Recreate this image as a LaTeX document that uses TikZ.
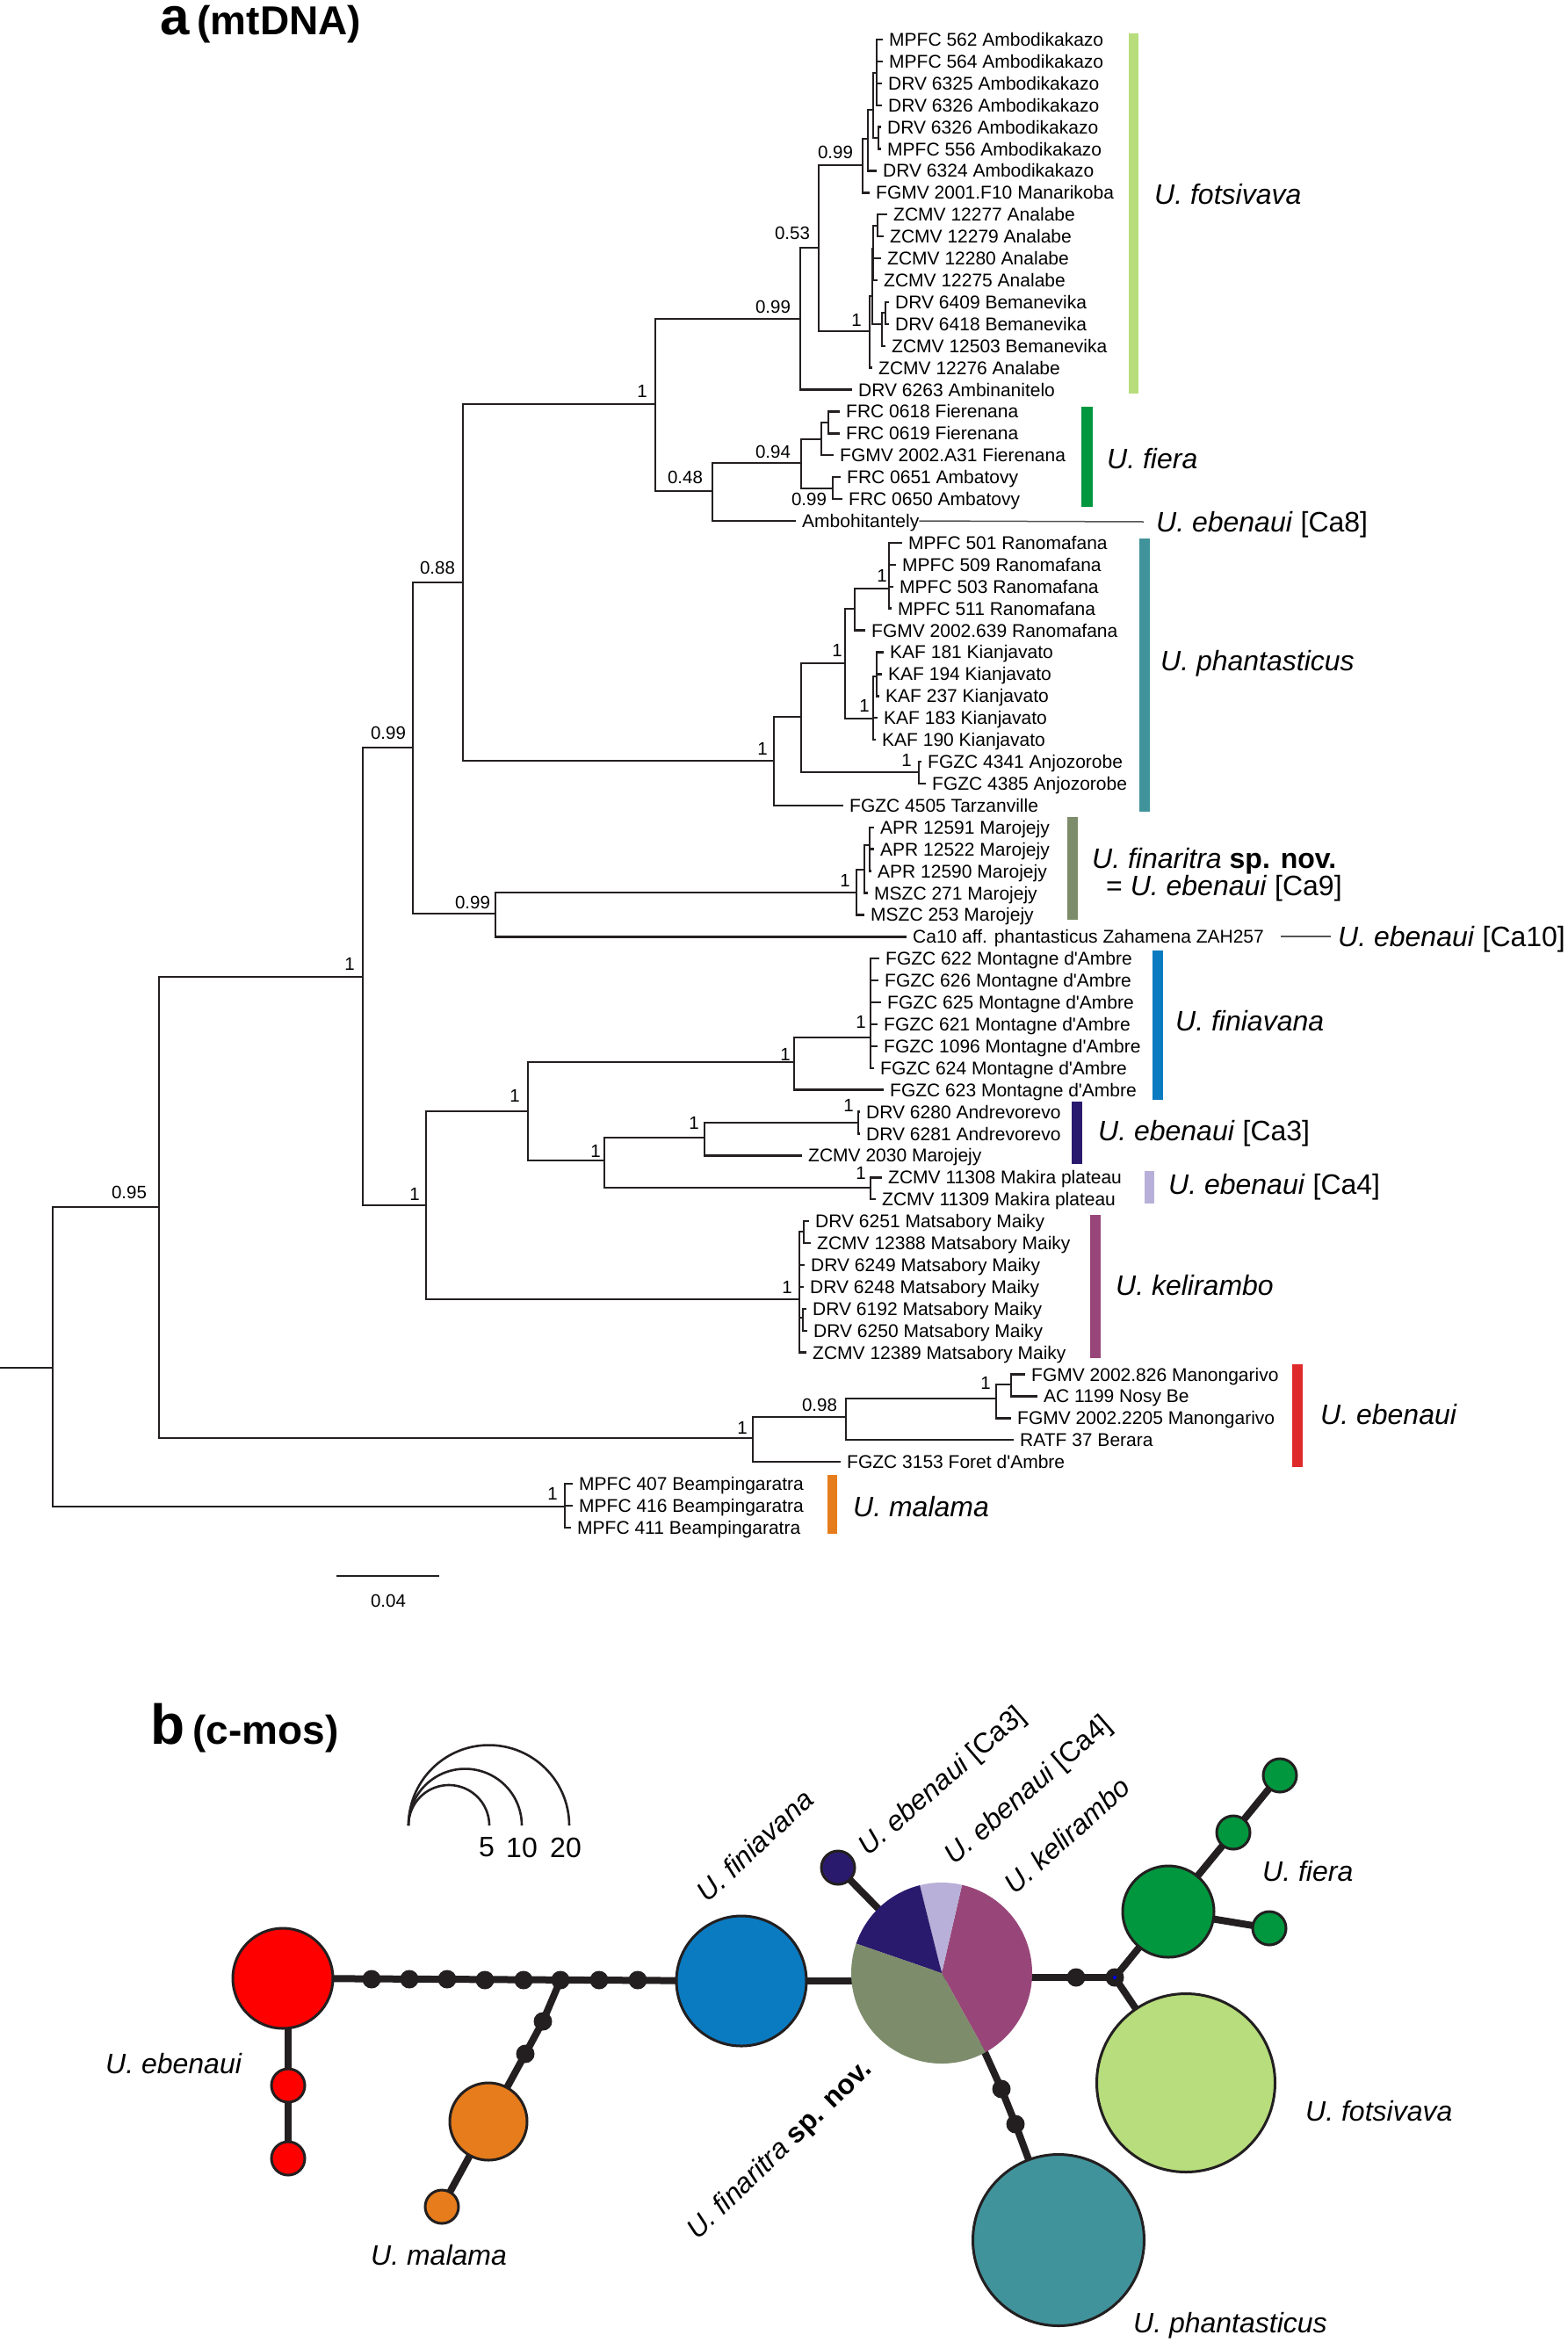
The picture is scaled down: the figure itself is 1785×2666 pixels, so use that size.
\documentclass[tikz,border=0pt]{standalone}
\usepackage{fontspec}
\setmainfont{Liberation Sans}
\definecolor{cLine}{HTML}{231F20}
\definecolor{cFots}{HTML}{B7DD7C}
\definecolor{cFiera}{HTML}{00973F}
\definecolor{cPhan}{HTML}{41939B}
\definecolor{cFinar}{HTML}{7D8C6B}
\definecolor{cFinia}{HTML}{0A7BC1}
\definecolor{cCaT}{HTML}{2A1A6E}
\definecolor{cCaF}{HTML}{B8B0D8}
\definecolor{cKel}{HTML}{984679}
\definecolor{cEbeBar}{HTML}{DF2A2C}
\definecolor{cMal}{HTML}{E67C1B}
\definecolor{cEbe}{HTML}{FF0000}
\definecolor{cConn}{HTML}{555555}
\newcommand\lf[4]{\coordinate (#1) at (#2-7,{45+24.91*#3}); \node[leaflab] (#1t) at (#2,{45+24.91*#3}) {#4};}
\newcommand\nd[3]{\coordinate (#1) at (#2,#3);}
\newcommand\sv[4]{\node[supp] (#1) at (#2,#3) {#4};}
\newcommand\ap{\textquotesingle}
\begin{document}
\begin{tikzpicture}[x=1pt,y=-1pt,
  tree/.style={line width=2.4pt, draw=cLine},
  conn/.style={line width=1.5pt, draw=cConn},
  leaflab/.style={anchor=west, inner sep=0pt, font=\fontsize{21}{21}\selectfont, text height=15pt, text depth=0pt},
  supp/.style={inner sep=0pt, font=\fontsize{20.5}{20.5}\selectfont, text height=14.7pt, text depth=0pt},
  grp/.style={anchor=west, inner sep=0pt, font=\fontsize{32}{32}\selectfont, text height=23pt, text depth=0pt},
  blab/.style={inner sep=0pt, font=\fontsize{32}{32}\selectfont\itshape},
  hap/.style={circle, draw=cLine, line width=3pt, inner sep=0pt},
  hdot/.style={circle, fill=cLine, inner sep=0pt, minimum size=21},
  hedge/.style={line width=8pt, draw=cLine},
  scl/.style={line width=2.6pt, draw=cLine}]
\useasboundingbox (0,0) rectangle (1785,2666);
\fill[white] (0,0) rectangle (1785,2666);

% ---------------- titles
\node[anchor=base west, inner sep=0pt] (titleA) at (182,39)
  {\bfseries\fontsize{60}{60}\selectfont a\hspace{9pt}\fontsize{46}{46}\selectfont (mtDNA)};
\node[anchor=base west, inner sep=0pt] (titleB) at (171,1985)
  {\bfseries\fontsize{64}{64}\selectfont b\hspace{9pt}\fontsize{46}{46}\selectfont (c-mos)};

% ---------------- internal nodes
\coordinate (Rs) at (0,1557);
\nd{R}{60}{1557}
\nd{n095}{181}{1374}
\nd{nA}{413}{1112}
\nd{nB}{470}{851}
\nd{n088}{527}{663}
\nd{nD}{746}{460}
\nd{nF}{911}{363}
\nd{n053}{932}{282}
\nd{nG}{982}{188}
\nd{nB1}{988}{158}
\nd{nC1}{994}{125}
\nd{nD1}{998}{83}
\nd{nAm2}{1000}{157}
\nd{nAn}{990}{377}
\nd{nG1}{993}{337}
\nd{nH1}{994}{283}
\nd{nH2}{999}{257}
\nd{nI1}{1004}{369}
\nd{nI2}{1008}{356}
\nd{n048}{811}{559}
\nd{n094}{912}{527}
\nd{nF1}{935}{500}
\nd{nF3}{943}{481}
\nd{nF2}{948}{556}
\nd{nPh}{881}{866}
\nd{nP1}{912}{816}
\nd{nP2}{962}{755}
\nd{nP4}{973}{693}
\nd{nP6}{1012}{670}
\nd{nP5}{994}{818}
\nd{nP7}{998}{770}
\nd{nP3}{1046}{879}
\nd{nCc}{564}{1040}
\nd{nMJ}{975}{1016}
\nd{nMJ2}{984}{990}
\nd{nMJ3}{990}{962}
\nd{nC}{485}{1372}
\nd{nFi}{601}{1265}
\nd{nFN}{904}{1209}
\nd{nFN2}{991}{1181}
\nd{nCa}{688}{1321}
\nd{nC3}{802}{1295}
\nd{nC3a}{977}{1278}
\nd{nC4}{991}{1352}
\nd{nK}{910}{1479}
\nd{nK1}{915}{1402}
\nd{nK2}{914}{1500}
\nd{nE}{857}{1637}
\nd{nE98}{963}{1613}
\nd{nEb1}{1134}{1592}
\nd{nEb2}{1151}{1576}
\nd{nM}{643}{1715}

% ---------------- leaves
\lf{l562}{1012}{0}{MPFC 562 Ambodikakazo}
\lf{l564}{1012}{1}{MPFC 564 Ambodikakazo}
\lf{l6325}{1011}{2}{DRV 6325 Ambodikakazo}
\lf{l6326a}{1011}{3}{DRV 6326 Ambodikakazo}
\lf{l6326b}{1010}{4}{DRV 6326 Ambodikakazo}
\lf{l556}{1010}{5}{MPFC 556 Ambodikakazo}
\lf{l6324}{1005}{6}{DRV 6324 Ambodikakazo}
\lf{lF10}{997}{7}{FGMV 2001.F10 Manarikoba}
\lf{l12277}{1017}{8}{ZCMV 12277 Analabe}
\lf{l12279}{1013}{9}{ZCMV 12279 Analabe}
\lf{l12280}{1010}{10}{ZCMV 12280 Analabe}
\lf{l12275}{1006}{11}{ZCMV 12275 Analabe}
\lf{l6409}{1019}{12}{DRV 6409 Bemanevika}
\lf{l6418}{1019}{13}{DRV 6418 Bemanevika}
\lf{l12503}{1015}{14}{ZCMV 12503 Bemanevika}
\lf{l12276}{1000}{15}{ZCMV 12276 Analabe}
\lf{l6263}{977}{16}{DRV 6263 Ambinanitelo}
\lf{l0618}{963}{17}{FRC 0618 Fierenana}
\lf{l0619}{963}{18}{FRC 0619 Fierenana}
\lf{lA31}{956}{19}{FGMV 2002.A31 Fierenana}
\lf{l0651}{964}{20}{FRC 0651 Ambatovy}
\lf{l0650}{966}{21}{FRC 0650 Ambatovy}
\lf{lAmbo}{913}{22}{Ambohitantely}
\lf{l501}{1034}{23}{MPFC 501 Ranomafana}
\lf{l509}{1027}{24}{MPFC 509 Ranomafana}
\lf{l503}{1024}{25}{MPFC 503 Ranomafana}
\lf{l511}{1022}{26}{MPFC 511 Ranomafana}
\lf{l639}{992}{27}{FGMV 2002.639 Ranomafana}
\lf{l181}{1013}{28}{KAF 181 Kianjavato}
\lf{l194}{1011}{29}{KAF 194 Kianjavato}
\lf{l237}{1008}{30}{KAF 237 Kianjavato}
\lf{l183}{1006}{31}{KAF 183 Kianjavato}
\lf{l190}{1004}{32}{KAF 190 Kianjavato}
\lf{l4341}{1056}{33}{FGZC 4341 Anjozorobe}
\lf{l4385}{1061}{34}{FGZC 4385 Anjozorobe}
\lf{l4505}{967}{35}{FGZC 4505 Tarzanville}
\lf{l12591}{1002}{36}{APR 12591 Marojejy}
\lf{l12522}{1002}{37}{APR 12522 Marojejy}
\lf{l12590}{999}{38}{APR 12590 Marojejy}
\lf{l271}{995}{39}{MSZC 271 Marojejy}
\lf{l253}{991}{40}{MSZC 253 Marojejy}
\lf{lCa10}{1039}{41}{Ca10 aff. phantasticus Zahamena ZAH257}
\lf{l622}{1008}{42}{FGZC 622 Montagne d\ap Ambre}
\lf{l626}{1007}{43}{FGZC 626 Montagne d\ap Ambre}
\lf{l625}{1010}{44}{FGZC 625 Montagne d\ap Ambre}
\lf{l621}{1006}{45}{FGZC 621 Montagne d\ap Ambre}
\lf{l1096}{1006}{46}{FGZC 1096 Montagne d\ap Ambre}
\lf{l624}{1002}{47}{FGZC 624 Montagne d\ap Ambre}
\lf{l623}{1013}{48}{FGZC 623 Montagne d\ap Ambre}
\lf{l6280}{986}{49}{DRV 6280 Andrevorevo}
\lf{l6281}{986}{50}{DRV 6281 Andrevorevo}
\lf{l2030}{920}{51}{ZCMV 2030 Marojejy}
\lf{l11308}{1011}{52}{ZCMV 11308 Makira plateau}
\lf{l11309}{1004}{53}{ZCMV 11309 Makira plateau}
\lf{l6251}{928}{54}{DRV 6251 Matsabory Maiky}
\lf{l12388}{930}{55}{ZCMV 12388 Matsabory Maiky}
\lf{l6249}{923}{56}{DRV 6249 Matsabory Maiky}
\lf{l6248}{922}{57}{DRV 6248 Matsabory Maiky}
\lf{l6192}{925}{58}{DRV 6192 Matsabory Maiky}
\lf{l6250}{926}{59}{DRV 6250 Matsabory Maiky}
\lf{l12389}{925}{60}{ZCMV 12389 Matsabory Maiky}
\lf{l826}{1174}{61}{FGMV 2002.826 Manongarivo}
\lf{lAC}{1188}{62}{AC 1199 Nosy Be}
\lf{l2205}{1158}{63}{FGMV 2002.2205 Manongarivo}
\lf{lRATF}{1161}{64}{RATF 37 Berara}
\lf{l3153}{964}{65}{FGZC 3153 Foret d\ap Ambre}
\lf{l407}{659}{66}{MPFC 407 Beampingaratra}
\lf{l416}{659}{67}{MPFC 416 Beampingaratra}
\lf{l411}{657}{68}{MPFC 411 Beampingaratra}

% ---------------- branches
\draw[tree] (Rs) -- (R);
\foreach \p/\c in {R/n095, R/nM, n095/nA, n095/nE, nA/nB, nA/nC, nB/n088, nB/nCc,
  n088/nD, n088/nPh, nD/nF, nD/n048, nF/n053, nF/l6263, n053/nG, n053/nAn,
  nG/nB1, nG/lF10, nB1/nC1, nB1/l6324, nC1/nD1, nC1/nAm2, nD1/l562, nD1/l564,
  nD1/l6325, nD1/l6326a, nAm2/l6326b, nAm2/l556, nAn/nG1, nAn/l12276, nG1/nH1,
  nG1/nI1, nH1/nH2, nH1/l12280, nH1/l12275, nH2/l12277, nH2/l12279, nI1/nI2,
  nI1/l12503, nI2/l6409, nI2/l6418,
  n048/n094, n048/lAmbo, n094/nF1, n094/nF2, nF1/nF3, nF1/lA31, nF3/l0618,
  nF3/l0619, nF2/l0651, nF2/l0650,
  nPh/nP1, nPh/l4505, nP1/nP2, nP1/nP3, nP2/nP4, nP2/nP5, nP4/nP6, nP4/l639,
  nP6/l501, nP6/l509, nP6/l503, nP6/l511, nP5/nP7, nP5/l183, nP5/l190,
  nP7/l181, nP7/l194, nP7/l237, nP3/l4341, nP3/l4385,
  nCc/nMJ, nCc/lCa10, nMJ/nMJ2, nMJ/l253, nMJ2/nMJ3, nMJ2/l271, nMJ3/l12591,
  nMJ3/l12522, nMJ3/l12590,
  nC/nFi, nC/nK, nFi/nFN, nFi/nCa, nFN/nFN2, nFN/l623, nFN2/l622, nFN2/l626,
  nFN2/l625, nFN2/l621, nFN2/l1096, nFN2/l624, nCa/nC3, nCa/nC4, nC3/nC3a,
  nC3/l2030, nC3a/l6280, nC3a/l6281, nC4/l11308, nC4/l11309,
  nK/nK1, nK/l6249, nK/l6248, nK/nK2, nK/l12389, nK1/l6251, nK1/l12388,
  nK2/l6192, nK2/l6250,
  nE/nE98, nE/l3153, nE98/nEb1, nE98/lRATF, nEb1/nEb2, nEb1/l2205, nEb2/l826,
  nEb2/lAC, nM/l407, nM/l416, nM/l411}
  \draw[tree] (\p) |- (\c);

% ---------------- support values
\sv{s1}{880}{349}{0.99}
\sv{s2}{902}{265}{0.53}
\sv{s3}{951}{173}{0.99}
\sv{s4}{975}{364}{1}
\sv{s5}{731}{445}{1}
\sv{s6}{780}{543}{0.48}
\sv{s7}{880}{514}{0.94}
\sv{s8}{921}{568}{0.99}
\sv{s9}{498}{646}{0.88}
\sv{s10}{442}{834}{0.99}
\sv{s11}{868}{852}{1}
\sv{s12}{953}{740}{1}
\sv{s13}{1032}{865}{1}
\sv{s14}{1004}{655}{1}
\sv{s15}{984}{803}{1}
\sv{s16}{538}{1027}{0.99}
\sv{s17}{962}{1002}{1}
\sv{s18}{398}{1097}{1}
\sv{s19}{147}{1357}{0.95}
\sv{s20}{472}{1359}{1}
\sv{s21}{586}{1247}{1}
\sv{s22}{894}{1200}{1}
\sv{s23}{980}{1163}{1}
\sv{s24}{678}{1310}{1}
\sv{s25}{790}{1278}{1}
\sv{s26}{966}{1258}{1}
\sv{s27}{980}{1335}{1}
\sv{s28}{896}{1465}{1}
\sv{s29}{845}{1625}{1}
\sv{s30}{933}{1599}{0.98}
\sv{s31}{1122}{1574}{1}
\sv{s32}{629}{1700}{1}

% ---------------- scale bar
\coordinate (sb1) at (383,1794);
\coordinate (sb2) at (500,1794);
\draw[tree] (sb1) -- (sb2);
\node[supp] (sbl) at (442,1822) {0.04};

% ---------------- clade bars
\fill[cFots] (1285,38) rectangle (1296,448);
\fill[cFiera] (1231,463) rectangle (1244,577);
\fill[cPhan] (1297,613) rectangle (1309,924);
\fill[cFinar] (1215,930) rectangle (1227,1047);
\fill[cFinia] (1312,1082) rectangle (1324,1252);
\fill[cCaT] (1220,1254) rectangle (1232,1325);
\fill[cCaF] (1303,1333) rectangle (1314,1370);
\fill[cKel] (1241,1383) rectangle (1253,1546);
\fill[cEbeBar] (1471,1553) rectangle (1483,1670);
\fill[cMal] (942,1679) rectangle (953,1746);

% ---------------- clade names
\node[grp] (gFots) at (1314,221) {\textit{U. fotsivava}};
\node[grp] (gFiera) at (1260,522) {\textit{U. fiera}};
\node[grp] (gCa8) at (1316,594) {\textit{U. ebenaui} [Ca8]};
\node[grp] (gPhan) at (1321,752) {\textit{U. phantasticus}};
\node[grp] (gFinar) at (1243,977) {\textit{U. finaritra} \textbf{sp. nov.}};
\node[grp] (gCa9) at (1259,1008) {= \textit{U. ebenaui} [Ca9]};
\node[grp] (gCa10) at (1523,1066) {\textit{U. ebenaui} [Ca10]};
\node[grp] (gFinia) at (1338,1162) {\textit{U. finiavana}};
\node[grp] (gCa3) at (1250,1287) {\textit{U. ebenaui} [Ca3]};
\node[grp] (gCa4) at (1330,1348) {\textit{U. ebenaui} [Ca4]};
\node[grp] (gKel) at (1270,1463) {\textit{U. kelirambo}};
\node[grp] (gEbe) at (1503,1610) {\textit{U. ebenaui}};
\node[grp] (gMal) at (971,1715) {\textit{U. malama}};

\coordinate (c8) at (1302,594);
\draw[conn] (lAmbot.east) -- (c8);
\coordinate (c10a) at (1458,1066);
\coordinate (c10b) at (1515,1066);
\draw[conn] (c10a) -- (c10b);

% ================= part b
% scale circles
\draw[scl] plot[domain=0:180,samples=60] ({511+46*cos(\x)},{2078-46*sin(\x)});
\draw[scl] plot[domain=0:180,samples=60] ({529.5+64.5*cos(\x)},{2078-64.5*sin(\x)});
\draw[scl] plot[domain=0:180,samples=60] ({556.5+91.5*cos(\x)},{2078-91.5*sin(\x)});
\node[inner sep=0pt, font=\fontsize{32}{32}\selectfont] (k5) at (554,2103) {5};
\node[inner sep=0pt, font=\fontsize{32}{32}\selectfont] (k10) at (594,2103) {10};
\node[inner sep=0pt, font=\fontsize{32}{32}\selectfont] (k20) at (644,2103) {20};

% haplotype centres
\coordinate (redL) at (322,2252);
\coordinate (redM) at (328,2374);
\coordinate (redS) at (328,2457);
\coordinate (d1) at (423,2253);
\coordinate (d2) at (466,2253);
\coordinate (d3) at (509,2253);
\coordinate (d4) at (552,2254);
\coordinate (d5) at (596,2254);
\coordinate (j1) at (638,2254);
\coordinate (d7) at (682,2254);
\coordinate (d8) at (726,2254);
\coordinate (od1) at (618,2301);
\coordinate (od2) at (598,2338);
\coordinate (orL) at (556,2415);
\coordinate (orS) at (503,2512);
\coordinate (blue) at (844,2255);
\coordinate (pie) at (1072,2246);
\coordinate (navyS) at (954,2126);
\coordinate (pd0) at (1116,2325);
\coordinate (pd1) at (1140,2378);
\coordinate (pd2) at (1156,2418);
\coordinate (phant) at (1205,2550);
\coordinate (gd) at (1225,2251);
\coordinate (jg) at (1269,2251);
\coordinate (grL) at (1330,2176);
\coordinate (gr1) at (1404,2086);
\coordinate (gr2) at (1457,2021);
\coordinate (gr3) at (1445,2195);
\coordinate (fots) at (1350,2371);

% edges
\draw[hedge] (redL) -- (blue);
\draw[hedge] (redL -| redS) -- (redS);
\draw[hedge] (j1) -- (od1) -- (od2) -- (orL) -- (orS);
\draw[hedge] (blue) -- (blue -| pie);
\draw[hedge] (navyS) -- (pie);
\draw[hedge] (pie |- jg) -- (jg);
\draw[hedge] (jg) -- (grL) -- (gr1) -- (gr2);
\draw[hedge] (grL) -- (gr3);
\draw[hedge] (jg) -- (fots);
\draw[hedge] (pd0) -- (pd1) -- (pd2) -- (phant);

% circles
\node[hap, fill=cEbe, minimum size=114] (hRedL) at (redL) {};
\node[hap, fill=cEbe, minimum size=38] (hRedM) at (redM) {};
\node[hap, fill=cEbe, minimum size=38] (hRedS) at (redS) {};
\node[hap, fill=cMal, minimum size=88] (hOrL) at (orL) {};
\node[hap, fill=cMal, minimum size=38] (hOrS) at (orS) {};
\node[hap, fill=cFinia, minimum size=148] (hBlue) at (blue) {};
\node[hap, fill=cCaT, minimum size=38] (hNavy) at (navyS) {};
\node[hap, fill=cFiera, minimum size=104] (hGrL) at (grL) {};
\node[hap, fill=cFiera, minimum size=38] (hGr1) at (gr1) {};
\node[hap, fill=cFiera, minimum size=38] (hGr2) at (gr2) {};
\node[hap, fill=cFiera, minimum size=38] (hGr3) at (gr3) {};
\node[hap, fill=cFots, minimum size=203] (hFots) at (fots) {};
\node[hap, fill=cPhan, minimum size=195] (hPhan) at (phant) {};
\foreach \d in {d1,d2,d3,d4,d5,j1,d7,d8,od1,od2,gd,jg,pd1,pd2}
  \node[hdot] (h\d) at (\d) {};
\node[circle, fill=blue, inner sep=0pt, minimum size=4] (hjgb) at (jg) {};

% pie
\fill[cKel] (pie) -- plot[domain=-61:77,samples=60] ({1072+103*cos(\x)},{2246-103*sin(\x)}) -- cycle;
\fill[cCaF] (pie) -- plot[domain=77:104,samples=20] ({1072+103*cos(\x)},{2246-103*sin(\x)}) -- cycle;
\fill[cCaT] (pie) -- plot[domain=104:161,samples=30] ({1072+103*cos(\x)},{2246-103*sin(\x)}) -- cycle;
\fill[cFinar] (pie) -- plot[domain=161:299,samples=60] ({1072+103*cos(\x)},{2246-103*sin(\x)}) -- cycle;

% part b labels
\node[blab, anchor=west] (bEbe) at (120,2349) {U. ebenaui};
\node[blab, anchor=west] (bMal) at (422,2567) {U. malama};
\node[blab, anchor=west] (bFiera) at (1437,2130) {U. fiera};
\node[blab, anchor=west] (bFots) at (1486,2403) {U. fotsivava};
\node[blab, anchor=west] (bPhan) at (1290,2647) {U. phantasticus};
\node[blab, anchor=base west, rotate=43] (bFinia) at (805,2167) {U. finiavana};
\node[blab, anchor=base west, rotate=41] (bCa3) at (988,2114) {U. ebenaui \upshape[Ca3]};
\node[blab, anchor=base west, rotate=41] (bCa4) at (1086,2124) {U. ebenaui \upshape[Ca4]};
\node[blab, anchor=base west, rotate=42] (bKel) at (1155,2158) {U. kelirambo};
\node[blab, anchor=base west, rotate=44] (bFinar) at (794,2551) {U. finaritra \upshape\bfseries sp. nov.};
\end{tikzpicture}
\end{document}
